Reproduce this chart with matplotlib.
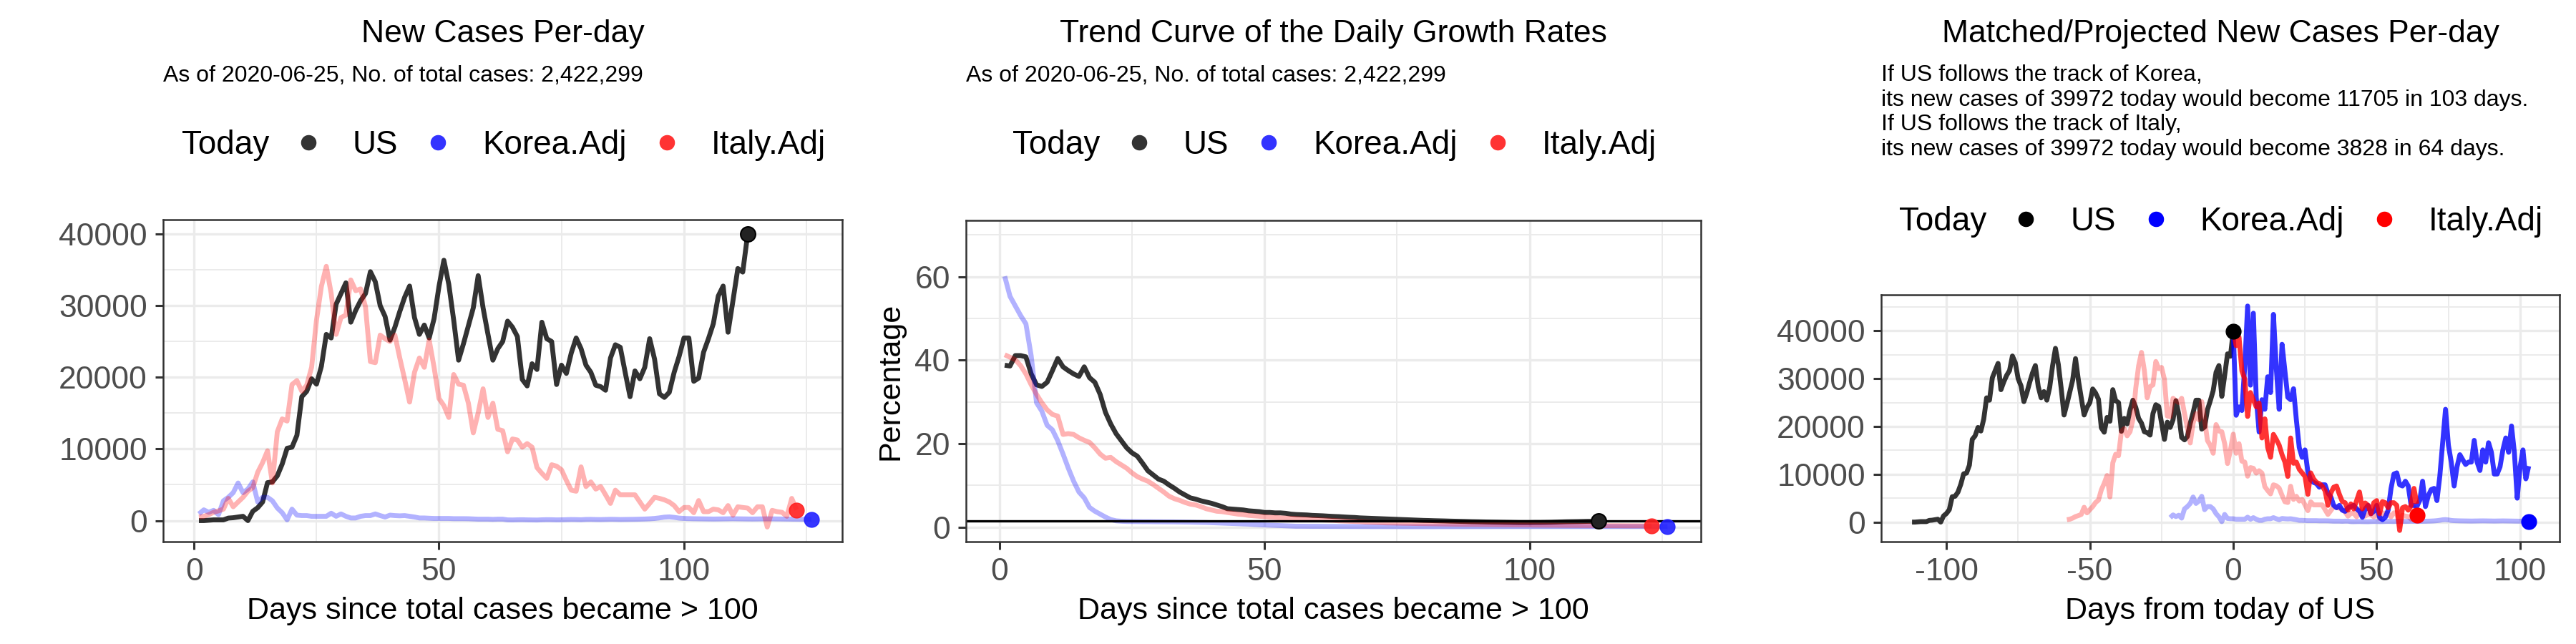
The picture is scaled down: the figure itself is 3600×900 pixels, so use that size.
import numpy as np
import matplotlib.pyplot as plt
from matplotlib.lines import Line2D
from matplotlib.ticker import MultipleLocator

plt.rcParams['font.family'] = ['Liberation Sans', 'DejaVu Sans']
plt.rcParams['axes.unicode_minus'] = False

# new cases per day, day 1 = first day with total cases > 100
us_new = [0, 0, 50, 100, 100, 100, 350, 400, 500, 600,
          0, 1300, 1800, 2600, 5300, 5400, 6250, 7900, 10100, 10250,
          11900, 17300, 18050, 19800, 19050, 21550, 26000, 25500, 30200, 31700,
          33200, 27700, 29350, 30700, 31700, 34750, 33350, 30000, 28500, 25200,
          27000, 29200, 31200, 32750, 28350, 26000, 27300, 25500, 28200, 32700,
          36350, 33000, 28000, 22400, 24700, 27200, 29700, 34200, 29700, 26000,
          22400, 24000, 25000, 27850, 27000, 25700, 19700, 18800, 21900, 21100,
          27700, 25400, 25000, 19000, 21700, 20550, 23400, 25500, 24000, 21700,
          20700, 18900, 18700, 18200, 22700, 24550, 24200, 20700, 17300, 20900,
          19800, 21400, 25400, 22550, 17700, 17200, 17900, 20700, 22900, 25500,
          25500, 19450, 19900, 23500, 25400, 27500, 31350, 32750, 26300, 30700,
          35200, 34700, 39972]
italy_new = [500, 600, 830, 1160, 1360, 1600, 3100, 1930, 2600, 3250,
             4100, 4600, 6750, 8100, 9750, 5250, 12400, 14200, 13900, 19000,
             19550, 18050, 18900, 21400, 28000, 32700, 35500, 31700, 26000, 28350,
             28700, 33600, 32100, 32350, 29850, 22200, 22050, 25900, 25400, 25000,
             25900, 22700, 19700, 16550, 20700, 22700, 21400, 25200, 21400, 17050,
             16050, 14400, 20400, 19050, 18900, 16400, 12250, 15050, 18400, 14400,
             16400, 12750, 12550, 9600, 11400, 11250, 10250, 10750, 10250, 7400,
             6600, 5900, 7800, 7600, 7100, 5600, 4250, 4100, 7500, 4750,
             5400, 4400, 4750, 3600, 2400, 4250, 3600, 3600, 3600, 3600,
             2600, 1600, 2400, 3250, 3100, 2900, 2600, 2100, 1250, 1830,
             1830, 1100, 2800, 1250, 1250, 1600, 1500, 1100, 2100, 750,
             1930, 1830, 1750, 1100, 1930, 1930, -900, 1430, 1250, 1160,
             600, 3100, 1500]
korea_new = [930, 1500, 1160, 1430, 830, 2760, 3250, 3900, 5250, 3900,
             4400, 5400, 2600, 3250, 3250, 2760, 1760, 1100, 100, 1600,
             760, 700, 700, 600, 600, 600, 600, 1030, 600, 930,
             600, 365, 365, 600, 700, 700, 930, 700, 500, 760,
             700, 665, 700, 600, 500, 365, 365, 330, 300, 300,
             300, 300, 270, 270, 270, 260, 230, 200, 200, 200,
             170, 200, 200, 100, 90, 110, 120, 100, 90, 80,
             110, 130, 120, 100, 110, 130, 150, 140, 120, 160,
             170, 150, 140, 160, 180, 170, 150, 160, 170, 180,
             200, 220, 250, 300, 380, 480, 520, 450, 350, 300,
             280, 260, 250, 240, 230, 220, 230, 240, 250, 260,
             250, 240, 230, 220, 230, 240, 250, 240, 230, 220,
             210, 200, 190, 180, 170, 160]

# trend of daily growth rate (%)
us_rate = [38.8, 38.6, 41.1, 41.1, 40.8, 36.7, 34.1, 33.7, 34.7, 37.5,
           40.4, 38.4, 37.5, 36.7, 36.1, 38.4, 35.8, 34.7, 31.8, 27.5,
           24.7, 22.4, 20.7, 19.0, 17.8, 17.0, 15.3, 13.5, 12.5, 11.5,
           11.0, 10.1, 9.3, 8.4, 7.7, 7.0, 6.7, 6.3, 6.0, 5.7,
           5.3, 4.9, 4.4, 4.3, 4.2, 4.1, 3.9, 3.8, 3.7, 3.5,
           3.5, 3.4, 3.4, 3.3, 3.1, 3.0, 2.95, 2.9, 2.8, 2.75,
           2.7, 2.62, 2.55, 2.5, 2.42, 2.35, 2.3, 2.2, 2.15, 2.1,
           2.05, 2.0, 1.95, 1.9, 1.85, 1.8, 1.75, 1.7, 1.65, 1.6,
           1.57, 1.53, 1.5, 1.47, 1.43, 1.4, 1.37, 1.34, 1.3, 1.28,
           1.25, 1.22, 1.2, 1.18, 1.16, 1.14, 1.12, 1.1, 1.1, 1.1,
           1.12, 1.12, 1.14, 1.16, 1.2, 1.24, 1.28, 1.3, 1.32, 1.35,
           1.38, 1.38, 1.4]
italy_rate = [41.3, 40.7, 40.1, 38.7, 36.7, 34.1, 31.8, 29.8, 28.1, 27.0,
              26.6, 22.2, 22.4, 22.2, 21.4, 20.8, 20.3, 19.0, 17.5, 16.5,
              16.7, 15.7, 14.9, 14.1, 13.0, 12.1, 11.5, 11.0, 10.2, 9.3,
              8.4, 7.4, 6.8, 6.4, 5.9, 5.5, 5.3, 4.9, 4.4, 4.1,
              3.8, 3.7, 3.5, 3.3, 3.1, 3.0, 2.8, 2.7, 2.6, 2.5,
              2.35, 2.3, 2.2, 2.15, 2.1, 2.05, 1.95, 1.9, 1.85, 1.8,
              1.7, 1.65, 1.6, 1.5, 1.45, 1.4, 1.35, 1.3, 1.2, 1.15,
              1.1, 1.05, 1.0, 0.98, 0.95, 0.92, 0.9, 0.87, 0.84, 0.82,
              0.8, 0.78, 0.76, 0.74, 0.72, 0.7, 0.69, 0.67, 0.66, 0.65,
              0.63, 0.62, 0.6, 0.58, 0.56, 0.55, 0.53, 0.52, 0.51, 0.5,
              0.48, 0.47, 0.46, 0.45, 0.44, 0.42, 0.41, 0.4, 0.39, 0.38,
              0.37, 0.36, 0.35, 0.34, 0.33, 0.33, 0.32, 0.31, 0.3, 0.3,
              0.29, 0.28, 0.28]
korea_rate = [60.1, 55.3, 53.0, 50.7, 48.7, 41.0, 29.8, 27.8, 24.4, 23.3,
              20.7, 17.5, 14.1, 11.0, 8.4, 7.0, 4.7, 3.8, 3.1, 2.4,
              1.8, 1.5, 1.4, 1.35, 1.33, 1.32, 1.3, 1.3, 1.28, 1.27,
              1.26, 1.25, 1.24, 1.22, 1.2, 1.18, 1.15, 1.12, 1.1, 1.05,
              1.0, 0.95, 0.9, 0.85, 0.8, 0.75, 0.7, 0.62, 0.55, 0.5,
              0.45, 0.4, 0.35, 0.3, 0.25, 0.2, 0.2, 0.19, 0.18, 0.18,
              0.17, 0.16, 0.16, 0.15, 0.15, 0.14, 0.14, 0.13, 0.13, 0.12,
              0.12, 0.12, 0.11, 0.11, 0.11, 0.1, 0.1, 0.1, 0.1, 0.1,
              0.1, 0.1, 0.11, 0.11, 0.11, 0.11, 0.11, 0.11, 0.12, 0.12,
              0.12, 0.12, 0.13, 0.13, 0.13, 0.14, 0.14, 0.14, 0.14, 0.14,
              0.14, 0.14, 0.14, 0.14, 0.14, 0.14, 0.14, 0.14, 0.14, 0.14,
              0.14, 0.14, 0.14, 0.14, 0.14, 0.14, 0.14, 0.14, 0.14, 0.14,
              0.14, 0.14, 0.14, 0.14, 0.14, 0.14]

# projected US new cases, days from today
italy_proj = [39972, 36900, 38700, 31650, 29900, 22100, 27100, 25600, 24100, 24900,
              17600, 21600, 15600, 13550, 18350, 17300, 16100, 14100, 12550, 9550,
              17600, 12300, 12550, 11050, 10300, 9550, 5800, 10300, 9050, 8300,
              8050, 7550, 6550, 3500, 6050, 7300, 7550, 5800, 4300, 4050,
              2500, 3800, 2750, 4500, 6300, 2750, 4000, 3500, 1750, 4050,
              4500, 1750, 4300, 4050, 3000, 4050, 4050, 3500, -1750, 3000,
              3250, 2500, 3500, 7050, 3828]
korea_proj = [39972, 22350, 24100, 23350, 32650, 45200, 28650, 43700, 26100, 18850,
              25600, 23600, 30400, 27100, 43450, 32150, 23600, 37200, 31650, 26100,
              25600, 27900, 21350, 15600, 13550, 15100, 10550, 8800, 8300, 8050,
              7300, 7800, 7800, 6050, 5300, 3500, 3000, 3500, 2500, 2250,
              3000, 3250, 3500, 2750, 2250, 1000, 2750, 3500, 1750, 2250,
              3500, 1000, 500, 1000, 2500, 7050, 10050, 10300, 7800, 7550,
              8550, 7550, 3500, 3500, 3250, 4500, 8550, 3250, 5550, 6800,
              7050, 4500, 9550, 16600, 23600, 16100, 12550, 7550, 11550, 14100,
              13050, 12050, 12550, 12550, 17100, 12550, 10800, 15100, 12550, 16600,
              14600, 10050, 10050, 11550, 15100, 17600, 14600, 20100, 14600, 5000,
              11550, 15100, 9050, 11705]

italy_match = 59   # Italy day matched to US today
korea_match = 23
as_of = "2020-06-25"
total_cases = 2422299
series = ['US', 'Korea.Adj', 'Italy.Adj']

us_days = np.arange(1, len(us_new) + 1)
italy_days = np.arange(1, len(italy_new) + 1)
korea_days = np.arange(1, len(korea_new) + 1)
us_today = us_new[-1]
W, H = 3600, 900

fig = plt.figure(figsize=(36, 9), dpi=100)
ax1 = fig.add_axes([228 / W, 1 - 757 / H, 949 / W, 450 / H])
ax2 = fig.add_axes([1350 / W, 1 - 757 / H, 1027 / W, 449 / H])
ax3 = fig.add_axes([2629 / W, 1 - 757 / H, 948 / W, 345 / H])


def style(ax, xstep, ystep):
    ax.xaxis.set_major_locator(MultipleLocator(xstep))
    ax.xaxis.set_minor_locator(MultipleLocator(xstep / 2))
    ax.yaxis.set_major_locator(MultipleLocator(ystep))
    ax.yaxis.set_minor_locator(MultipleLocator(ystep / 2))
    ax.grid(which='major', color='#EBEBEB', lw=2.4)
    ax.grid(which='minor', color='#EBEBEB', lw=1.4)
    ax.set_axisbelow(True)
    ax.tick_params(which='major', length=8, width=2.2, color='#333333',
                   labelsize=32, labelcolor='#4D4D4D', pad=8)
    ax.tick_params(which='minor', length=0)
    for s in ax.spines.values():
        s.set_color('#333333')
        s.set_linewidth(1.8)


def header(ax, title, subtitle, sub_y, leg_y, colors):
    x0, y0, w, h = ax.get_position().bounds
    cx = x0 + w / 2
    fig.text(cx, 1 - 59 / H, title, ha='center', va='baseline', fontsize=32)
    fig.text(x0, sub_y, subtitle, ha='left', va='top', fontsize=23, linespacing=1.2)
    fig.text(cx - 449 / W, leg_y, 'Today', ha='left', va='center', fontsize=33)
    handles = [Line2D([], [], ls='none', marker='o', ms=14.5, color=c) for c in colors]
    fig.legend(handles, series, loc='center left', bbox_to_anchor=(cx - 283 / W, leg_y),
               bbox_transform=fig.transFigure, ncol=3, frameon=False, fontsize=33,
               handlelength=0.5, handletextpad=1.1, columnspacing=0.97,
               borderpad=0, borderaxespad=0)


line_kw = dict(lw=4.9, solid_capstyle='butt', solid_joinstyle='round')
soft = ['#333333', '#3333ff', '#ff3333']

# panel 1
ax1.plot(us_days, us_new, color='black', alpha=0.8, **line_kw)
ax1.plot(korea_days, korea_new, color='blue', alpha=0.3, **line_kw)
ax1.plot(italy_days, italy_new, color='red', alpha=0.3, **line_kw)
ax1.plot(us_days[-1], us_new[-1], 'o', ms=15, color='#222222', mec='black', mew=1.5)
ax1.plot(italy_days[-1], italy_new[-1], 'o', ms=15, color='#ff2020', alpha=0.9)
ax1.plot(korea_days[-1], korea_new[-1], 'o', ms=15, color='#2020ff', alpha=0.9)
style(ax1, 50, 10000)
ax1.set_xlim(-6.3, 132.3)
ax1.set_xlabel('Days since total cases became > 100', fontsize=31, labelpad=10)
header(ax1, 'New Cases Per-day',
       f'As of {as_of}, No. of total cases: {total_cases:,}', 1 - 91 / H, 1 - 203 / H, soft)

# panel 2
ax2.plot(us_days, us_rate, color='black', alpha=0.8, **line_kw)
ax2.plot(korea_days, korea_rate, color='blue', alpha=0.3, **line_kw)
ax2.plot(italy_days, italy_rate, color='red', alpha=0.3, **line_kw)
ax2.axhline(us_rate[-1], color='black', lw=2.4)
ax2.plot(us_days[-1], us_rate[-1], 'o', ms=15, color='#222222', mec='black', mew=1.5)
ax2.plot(italy_days[-1], italy_rate[-1], 'o', ms=15, color='#ff2020', alpha=0.9)
ax2.plot(korea_days[-1], korea_rate[-1], 'o', ms=15, color='#2020ff', alpha=0.9)
style(ax2, 50, 20)
ax2.set_xlim(-6.3, 132.3)
ax2.set_ylim(-3.5, 73.5)
ax2.set_xlabel('Days since total cases became > 100', fontsize=31, labelpad=10)
ax2.set_ylabel('Percentage', fontsize=31, labelpad=10)
header(ax2, 'Trend Curve of the Daily Growth Rates',
       f'As of {as_of}, No. of total cases: {total_cases:,}', 1 - 91 / H, 1 - 203 / H, soft)

# panel 3
ax3.plot(us_days - us_days[-1], us_new, color='black', alpha=0.8, **line_kw)
ax3.plot(italy_days - italy_match, italy_new, color='red', alpha=0.3, **line_kw)
ax3.plot(korea_days - korea_match, korea_new, color='blue', alpha=0.3, **line_kw)
ax3.plot(np.arange(len(korea_proj)), korea_proj, color='blue', alpha=0.8, **line_kw)
ax3.plot(np.arange(len(italy_proj)), italy_proj, color='red', alpha=0.8, **line_kw)
ax3.plot(0, us_today, 'o', ms=15, color='black')
ax3.plot(len(italy_proj) - 1, italy_new[-1], 'o', ms=15, color='red')
ax3.plot(len(korea_proj) - 1, korea_new[-1], 'o', ms=15, color='blue')
style(ax3, 50, 10000)
ax3.set_xlabel('Days from today of US', fontsize=31, labelpad=10)
sub3 = (f'If US follows the track of Korea,\n'
        f'its new cases of {us_today} today would become {korea_proj[-1]} in {len(korea_proj) - 1} days.\n'
        f'If US follows the track of Italy,\n'
        f'its new cases of {us_today} today would become {italy_proj[-1]} in {len(italy_proj) - 1} days.')
header(ax3, 'Matched/Projected New Cases Per-day', sub3, 1 - 90 / H, 1 - 310 / H,
       ['black', 'blue', 'red'])

fig.savefig('out.png', dpi=100)
